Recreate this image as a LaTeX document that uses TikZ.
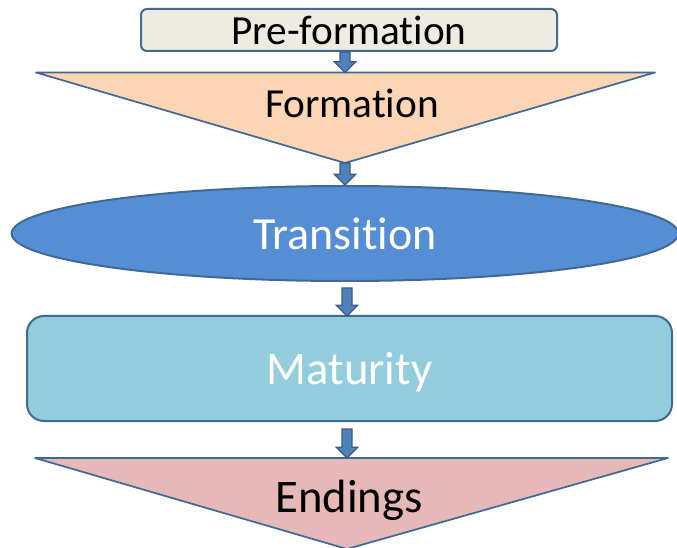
\documentclass[tikz,border=0pt]{standalone}
\usepackage{fontspec}
\setmainfont{Carlito}[RawFeature={-liga;-clig;-calt;-dlig}]
\usetikzlibrary{shapes.geometric,calc}
\definecolor{preFill}{HTML}{EEECE1}
\definecolor{formFill}{HTML}{FCD5B5}
\definecolor{transFill}{HTML}{558ED5}
\definecolor{matFill}{HTML}{93CDDD}
\definecolor{endFill}{HTML}{E6B9B8}
\definecolor{edgeBlue}{HTML}{3F6A96}
\definecolor{arrFill}{HTML}{4F81BD}
\definecolor{arrEdge}{HTML}{385D8A}
\tikzset{
  shapeline/.style={draw=edgeBlue, line width=1.5pt, line join=round},
  prebox/.style={shapeline, fill=preFill, rounded corners=4.5pt, inner sep=0pt,
    minimum width=312pt, minimum height=31.5pt, font=\fontsize{31}{31}\selectfont},
  transell/.style={shapeline, ellipse, fill=transFill, inner sep=0pt,
    minimum width=500pt, minimum height=71.25pt, text=white,
    font=\fontsize{34.5}{34.5}\selectfont},
  matbox/.style={shapeline, fill=matFill, rounded corners=12.75pt, inner sep=0pt,
    minimum width=483.75pt, minimum height=78.75pt, text=white, text depth=0pt,
    font=\fontsize{35}{35}\selectfont},
  tri/.style={shapeline, line width=1.3pt},
  label/.style={inner sep=0pt},
  arrowsty/.style={draw=arrEdge, fill=arrFill, line width=0.9pt, line join=miter},
}
\newcommand\blockarrow[2]{%
  \draw[arrowsty] let \p1=(#1), \p2=(#2) in
    (\x2-3.75pt,\y1) -- (\x2-3.75pt,\y2+8pt) -- (\x2-8pt,\y2+8pt) -- (\x2,\y2)
    -- (\x2+8pt,\y2+8pt) -- (\x2+3.75pt,\y2+8pt) -- (\x2+3.75pt,\y1) -- cycle;}
\begin{document}
\begin{tikzpicture}[x=0.75pt,y=-0.75pt]
\useasboundingbox (0,0) rectangle (677,548);
\clip (0,0) rectangle (677,548);
% Pre-formation
\node[prebox] (pre) at (349,30) {Pre-format\kern0pt ion};
% Formation triangle
\coordinate (formL) at (36,72.5);
\coordinate (formR) at (655,72.5);
\coordinate (formapex) at (345,163);
\coordinate (formtop) at (345,72.5);
\draw[tri, fill=formFill] (formL) -- (formR) -- (formapex) -- cycle;
\node[label, font=\fontsize{31}{31}\selectfont] (formtext) at (352,103) {Format\kern0pt ion};
% Transition ellipse
\node[transell] (trans) at (345,233.5) {Transit\kern0pt ion};
% Maturity
\node[matbox] (mat) at (349.5,368.5) {Maturity};
% Endings triangle
\coordinate (endL) at (35,458);
\coordinate (endR) at (668,458);
\coordinate (endapex) at (347,549);
\coordinate (endtop) at (347,458);
\draw[tri, fill=endFill] (endL) -- (endR) -- (endapex) -- cycle;
\node[label, font=\fontsize{35}{35}\selectfont] (endtext) at (349,500) {Endings};
% arrows
\coordinate (a3s) at ($(trans.south)+(2,6)$);
\coordinate (a3e) at (347,316);
\coordinate (a4s) at ($(mat.south)+(-2.5,7)$);
\blockarrow{pre.south}{formtop}
\blockarrow{formapex}{trans.north}
\blockarrow{a3s}{a3e}
\blockarrow{a4s}{endtop}
\end{tikzpicture}
\end{document}
